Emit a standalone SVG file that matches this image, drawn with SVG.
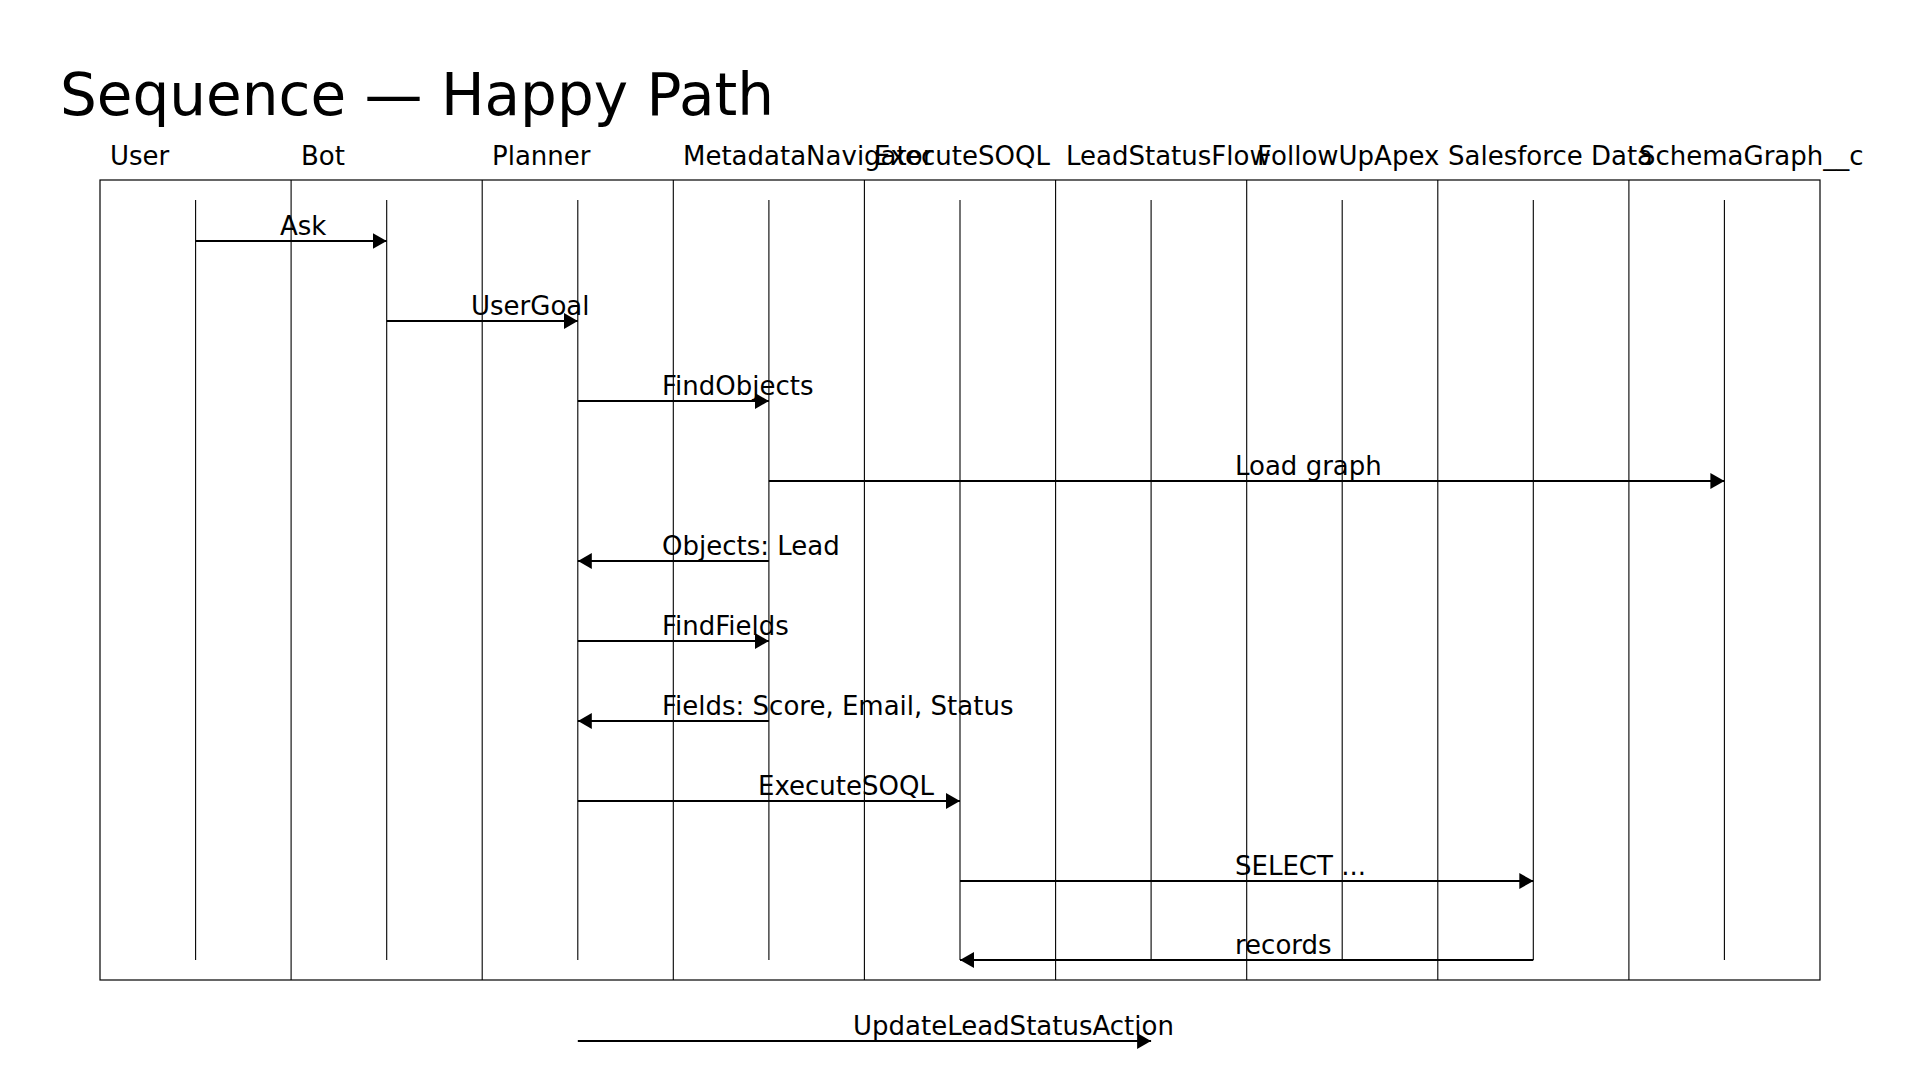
<svg xmlns="http://www.w3.org/2000/svg" width="1920" height="1080" viewBox="0 0 1920 1080">
<defs>
<style>
text{font-family:"DejaVu Sans",sans-serif;fill:#000}
.title{font-size:58px}
.part{font-size:26px}
.msg{font-size:26px}
.frame{fill:none;stroke:#000;stroke-width:1.2}
.col{stroke:#000;stroke-width:1.1}
.life{stroke:#000;stroke-width:1.1}
.arrow{stroke:#000;stroke-width:2;fill:none;marker-end:url(#ah)}
</style>
<marker id="ah" viewBox="0 0 14 16" refX="14" refY="8" markerWidth="14" markerHeight="16" markerUnits="userSpaceOnUse" orient="auto">
<path d="M0,0 L14,8 L0,16 Z" fill="#000"/>
</marker>
</defs>
<rect width="1920" height="1080" fill="#fff"/>
<text class="title" x="60" y="115">Sequence — Happy Path</text>
<rect class="frame" x="100" y="180" width="1720" height="800"/>
<g id="columns">
<line class="col" x1="291.1" y1="180" x2="291.1" y2="980"/>
<line class="col" x1="482.2" y1="180" x2="482.2" y2="980"/>
<line class="col" x1="673.3" y1="180" x2="673.3" y2="980"/>
<line class="col" x1="864.4" y1="180" x2="864.4" y2="980"/>
<line class="col" x1="1055.6" y1="180" x2="1055.6" y2="980"/>
<line class="col" x1="1246.7" y1="180" x2="1246.7" y2="980"/>
<line class="col" x1="1437.8" y1="180" x2="1437.8" y2="980"/>
<line class="col" x1="1628.9" y1="180" x2="1628.9" y2="980"/>
</g>
<g id="p-user"><text class="part" x="110" y="165">User</text><line class="life" x1="195.6" y1="200" x2="195.6" y2="960"/></g>
<g id="p-bot"><text class="part" x="301" y="165">Bot</text><line class="life" x1="386.7" y1="200" x2="386.7" y2="960"/></g>
<g id="p-planner"><text class="part" x="492" y="165">Planner</text><line class="life" x1="577.8" y1="200" x2="577.8" y2="960"/></g>
<g id="p-metadatanavigator"><text class="part" x="683" y="165">MetadataNavigator</text><line class="life" x1="768.9" y1="200" x2="768.9" y2="960"/></g>
<g id="p-executesoql"><text class="part" x="874" y="165">ExecuteSOQL</text><line class="life" x1="960" y1="200" x2="960" y2="960"/></g>
<g id="p-leadstatusflow"><text class="part" x="1066" y="165">LeadStatusFlow</text><line class="life" x1="1151.1" y1="200" x2="1151.1" y2="960"/></g>
<g id="p-followupapex"><text class="part" x="1257" y="165">FollowUpApex</text><line class="life" x1="1342.2" y1="200" x2="1342.2" y2="960"/></g>
<g id="p-salesforcedata"><text class="part" x="1448" y="165">Salesforce Data</text><line class="life" x1="1533.3" y1="200" x2="1533.3" y2="960"/></g>
<g id="p-schemagraph"><text class="part" x="1639" y="165">SchemaGraph__c</text><line class="life" x1="1724.4" y1="200" x2="1724.4" y2="960"/></g>
<g id="connectors">
<line class="arrow" x1="195.6" y1="241" x2="386.7" y2="241"/>
<text class="msg" x="280" y="235">Ask</text>
<line class="arrow" x1="386.7" y1="321" x2="577.8" y2="321"/>
<text class="msg" x="471" y="315">UserGoal</text>
<line class="arrow" x1="577.8" y1="401" x2="768.9" y2="401"/>
<text class="msg" x="662" y="395">FindObjects</text>
<line class="arrow" x1="768.9" y1="481" x2="1724.4" y2="481"/>
<text class="msg" x="1235" y="475">Load graph</text>
<line class="arrow" x1="768.9" y1="561" x2="577.8" y2="561"/>
<text class="msg" x="662" y="555">Objects: Lead</text>
<line class="arrow" x1="577.8" y1="641" x2="768.9" y2="641"/>
<text class="msg" x="662" y="635">FindFields</text>
<line class="arrow" x1="768.9" y1="721" x2="577.8" y2="721"/>
<text class="msg" x="662" y="715">Fields: Score, Email, Status</text>
<line class="arrow" x1="577.8" y1="801" x2="960" y2="801"/>
<text class="msg" x="758" y="795">ExecuteSOQL</text>
<line class="arrow" x1="960" y1="881" x2="1533.3" y2="881"/>
<text class="msg" x="1235" y="875">SELECT ...</text>
<line class="arrow" x1="1533.3" y1="960" x2="960" y2="960"/>
<text class="msg" x="1235" y="954">records</text>
<line class="arrow" x1="577.8" y1="1041" x2="1151.1" y2="1041"/>
<text class="msg" x="853" y="1035">UpdateLeadStatusAction</text>
</g>
</svg>
